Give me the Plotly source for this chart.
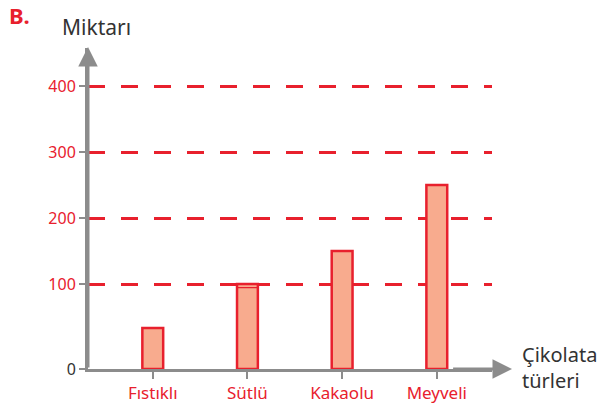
import plotly.graph_objects as go

categories = ["Fıstıklı", "Sütlü", "Kakaolu", "Meyveli"]
values = [50, 100, 150, 250]
upper_ticks = [100, 200, 300, 400]
upper_tick_labels = ["100", "200", "300", "400"]
lower_ticks = [0]
lower_tick_labels = ["0"]

RED = "#e8202d"
FILL = "#f8ab8e"
GRAY = "#8c8c8c"
DARK = "#333333"
FONT = "Noto Sans"

W, H = 604, 404
L, R, T, B = 88, 112, 48, 35
pw, ph = W - L - R, H - T - B
PXU = 0.66          # pixels per unit in the upper (100-400) segment
GAP = 3             # px between the upper segment's bottom and its 100 line
lower_px = 85 - GAP  # px height of the 0-100 segment (broken axis)
split = lower_px / ph
upper_lo = 100 - GAP / PXU
upper_top = upper_lo + (ph - lower_px) / PXU

xpos = list(range(len(categories)))

fig = go.Figure()
for ax in ["y", "y2"]:
    fig.add_trace(go.Bar(
        x=xpos, y=values, yaxis=ax, width=0.22,
        marker=dict(color=FILL, line=dict(color=RED, width=2.5)),
        showlegend=False, hoverinfo="skip",
    ))

fig.update_layout(
    width=W, height=H, autosize=False,
    margin=dict(l=L, r=R, t=T, b=B, autoexpand=False),
    paper_bgcolor="white", plot_bgcolor="rgba(0,0,0,0)",
    barmode="overlay",
    font=dict(family=FONT, color=RED),
    xaxis=dict(
        range=[-0.684, 3.583], anchor="y", automargin=False,
        tickvals=xpos, ticktext=categories,
        ticks="outside", ticklen=7, tickwidth=2, tickcolor=GRAY,
        tickfont=dict(size=17, color=RED, family=FONT),
        showgrid=False, zeroline=False,
        showline=True, linecolor=GRAY, linewidth=3, layer="below traces",
    ),
    yaxis=dict(
        domain=[0, split], range=[0, 100], automargin=False,
        tickvals=lower_ticks, ticktext=lower_tick_labels,
        ticks="outside", ticklen=6, tickwidth=2, tickcolor=GRAY,
        tickfont=dict(size=16, color=DARK, family=FONT),
        showgrid=False, zeroline=False,
        showline=True, linecolor=GRAY, linewidth=3,
    ),
    yaxis2=dict(
        domain=[split, 1], range=[upper_lo, upper_top], anchor="x", automargin=False,
        tickvals=upper_ticks, ticktext=upper_tick_labels,
        ticks="outside", ticklen=6, tickwidth=2, tickcolor=GRAY,
        tickfont=dict(size=16, color=RED, family=FONT),
        showgrid=True, gridcolor=RED, gridwidth=2.5, griddash="17px,16px",
        zeroline=False,
        showline=True, linecolor=GRAY, linewidth=3,
    ),
)

ann = []
# y axis arrow
ann.append(dict(xref="x domain", yref="y domain", x=0, y=(ph + 1) / lower_px,
                axref="x domain", ayref="y domain", ax=0, ay=0,
                showarrow=True, arrowhead=2, arrowsize=1.3, arrowwidth=3,
                arrowcolor=GRAY, text=""))
# x axis arrow
ann.append(dict(xref="x domain", yref="y domain", x=(512 - L) / pw, y=0,
                axref="x domain", ayref="y domain", ax=0.9, ay=0,
                showarrow=True, arrowhead=2, arrowsize=1.3, arrowwidth=3,
                arrowcolor=GRAY, text=""))
ann.append(dict(xref="paper", yref="paper", x=(60 - L) / pw, y=(H - B - 27) / ph,
                xanchor="left", yanchor="middle", showarrow=False,
                text="Miktarı", font=dict(size=21, color=DARK, family=FONT)))
ann.append(dict(xref="paper", yref="paper", x=(520 - L) / pw, y=(H - B - 367) / ph,
                xanchor="left", yanchor="middle", align="left", showarrow=False,
                text="Çikolata<br>türleri", font=dict(size=20, color=DARK, family=FONT)))
ann.append(dict(xref="paper", yref="paper", x=(7 - L) / pw, y=(H - B - 15) / ph,
                xanchor="left", yanchor="middle", showarrow=False,
                text="<b>B.</b>", font=dict(size=22, color=RED, family=FONT)))
fig.update_layout(annotations=ann)

fig.write_html(
    "out.html",
    config={"displayModeBar": False},
    post_script="document.body.style.margin='0';document.body.style.overflow='hidden';",
)
